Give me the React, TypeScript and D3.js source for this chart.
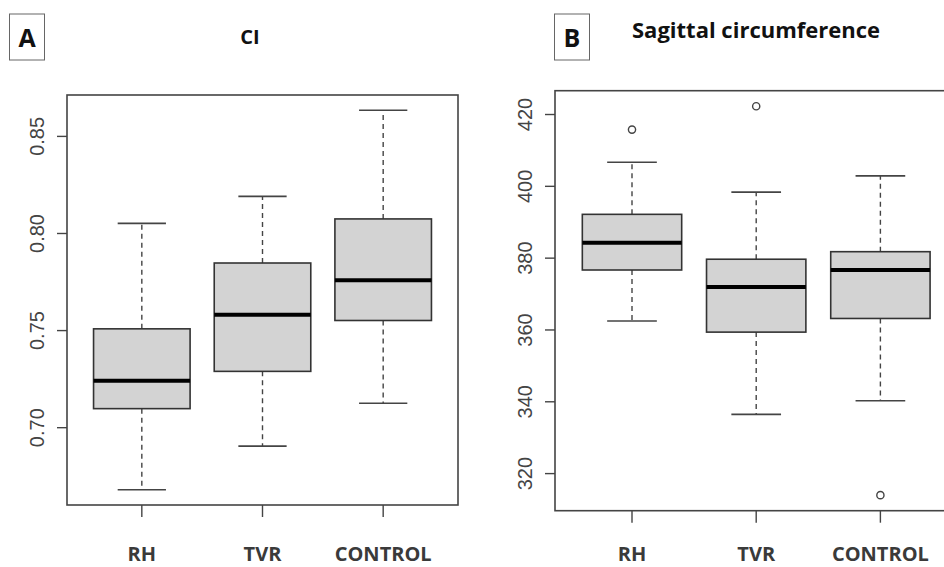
import React, { useEffect, useRef } from 'react';
import * as d3 from 'd3';

const categories = ['RH', 'TVR', 'CONTROL'];

// Panel A: CI
const ciLow = [0.668, 0.6905, 0.7126];
const ciQ1 = [0.7098, 0.729, 0.7552];
const ciMedian = [0.7242, 0.7582, 0.7759];
const ciQ3 = [0.7509, 0.7848, 0.8075];
const ciHigh = [0.8052, 0.8191, 0.8635];
const ciOutliers: number[][] = [[], [], []];
const ciTicks = [0.7, 0.75, 0.8, 0.85];

// Panel B: Sagittal circumference
const sagLow = [362.5, 336.5, 340.3];
const sagQ1 = [376.7, 359.4, 363.2];
const sagMedian = [384.3, 372.0, 376.7];
const sagQ3 = [392.2, 379.7, 381.8];
const sagHigh = [406.7, 398.4, 402.9];
const sagOutliers: number[][] = [[415.8], [422.3], [314.0]];
const sagTicks = [320, 340, 360, 380, 400, 420];

const W = 944, H = 567;

type Panel = {
  letter: string;
  title: string;
  titleSize: number;
  titleX: number;
  titleY: number;
  titleAnchor: string;
  letterBox: number;
  frame: { left: number; right: number; top: number; bottom: number };
  low: number[]; q1: number[]; median: number[]; q3: number[]; high: number[];
  outliers: number[][];
  ticks: number[];
  tickFormat: (d: number) => string;
  labelY: number;
};

function drawPanel(svg: any, p: Panel) {
  const f = p.frame;
  const g = svg.append('g');

  // R style: data range extended by 4% on both ends
  const all = [...p.low, ...p.high, ...p.outliers.flat()];
  const [lo, hi] = d3.extent(all) as [number, number];
  const pad = (hi - lo) * 0.04;
  const y = d3.scaleLinear().domain([lo - pad, hi + pad]).range([f.bottom, f.top]);
  const x = d3.scaleLinear().domain([0.38, 3.62]).range([f.left, f.right]);

  // letter box + title
  g.append('rect')
    .attr('x', p.letterBox).attr('y', 14)
    .attr('width', 35).attr('height', 46)
    .attr('fill', 'white').attr('stroke', '#666').attr('stroke-width', 1);
  g.append('text')
    .attr('x', p.letterBox + 17.5).attr('y', 47)
    .attr('text-anchor', 'middle')
    .attr('font-family', 'Open Sans, sans-serif').attr('font-weight', 700)
    .attr('font-size', 25).attr('fill', '#111')
    .text(p.letter);
  g.append('text')
    .attr('x', p.titleX).attr('y', p.titleY)
    .attr('text-anchor', p.titleAnchor)
    .attr('font-family', 'Open Sans, sans-serif').attr('font-weight', 700)
    .attr('font-size', p.titleSize).attr('fill', '#111')
    .text(p.title);

  // boxes
  const boxW = 0.8, capW = 0.4;
  categories.forEach((c, i) => {
    const cx = x(i + 1);
    const half = (x(boxW) - x(0)) / 2;
    const capHalf = (x(capW) - x(0)) / 2;

    // whiskers
    [[p.q3[i], p.high[i]], [p.q1[i], p.low[i]]].forEach(([a, b]) => {
      g.append('line')
        .attr('x1', cx).attr('x2', cx).attr('y1', y(a)).attr('y2', y(b))
        .attr('stroke', '#444').attr('stroke-width', 1.4)
        .attr('stroke-dasharray', '5,4');
      g.append('line')
        .attr('x1', cx - capHalf).attr('x2', cx + capHalf).attr('y1', y(b)).attr('y2', y(b))
        .attr('stroke', '#444').attr('stroke-width', 1.6);
    });

    g.append('rect')
      .attr('x', cx - half).attr('width', half * 2)
      .attr('y', y(p.q3[i])).attr('height', y(p.q1[i]) - y(p.q3[i]))
      .attr('fill', '#d3d3d3').attr('stroke', '#333').attr('stroke-width', 1.6);
    g.append('line')
      .attr('x1', cx - half).attr('x2', cx + half)
      .attr('y1', y(p.median[i])).attr('y2', y(p.median[i]))
      .attr('stroke', '#000').attr('stroke-width', 4);

    p.outliers[i].forEach(v => {
      g.append('circle')
        .attr('cx', cx).attr('cy', y(v)).attr('r', 3.6)
        .attr('fill', 'none').attr('stroke', '#444').attr('stroke-width', 1.4);
    });

    // x tick + label
    g.append('line')
      .attr('x1', cx).attr('x2', cx).attr('y1', f.bottom).attr('y2', f.bottom + 12)
      .attr('stroke', '#444').attr('stroke-width', 1.4);
    g.append('text')
      .attr('x', cx).attr('y', p.labelY)
      .attr('text-anchor', 'middle')
      .attr('font-family', 'Open Sans, sans-serif').attr('font-weight', 700)
      .attr('font-size', 20).attr('fill', '#3a3a3a')
      .text(c);
  });

  // y axis ticks
  p.ticks.forEach(t => {
    g.append('line')
      .attr('x1', f.left - 10).attr('x2', f.left).attr('y1', y(t)).attr('y2', y(t))
      .attr('stroke', '#444').attr('stroke-width', 1.4);
    g.append('text')
      .attr('transform', `translate(${f.left - 23},${y(t)}) rotate(-90)`)
      .attr('text-anchor', 'middle')
      .attr('font-family', 'Liberation Sans, Arial, sans-serif')
      .attr('font-size', 20).attr('fill', '#444')
      .text(p.tickFormat(t));
  });

  // frame
  g.append('rect')
    .attr('x', f.left).attr('y', f.top)
    .attr('width', f.right - f.left).attr('height', f.bottom - f.top)
    .attr('fill', 'none').attr('stroke', '#444').attr('stroke-width', 1.6);
}

export default function App() {
  const ref = useRef<SVGSVGElement>(null);

  useEffect(() => {
    const svg = d3.select(ref.current);
    svg.selectAll('*').remove();

    drawPanel(svg, {
      letter: 'A', title: 'CI', titleSize: 20, titleX: 250, titleY: 44, titleAnchor: 'middle',
      letterBox: 9.5,
      frame: { left: 67, right: 458, top: 95, bottom: 505 },
      low: ciLow, q1: ciQ1, median: ciMedian, q3: ciQ3, high: ciHigh,
      outliers: ciOutliers, ticks: ciTicks, tickFormat: d3.format('.2f'),
      labelY: 561,
    });

    drawPanel(svg, {
      letter: 'B', title: 'Sagittal circumference', titleSize: 22, titleX: 632, titleY: 38, titleAnchor: 'start',
      letterBox: 554.5,
      frame: { left: 555, right: 957.4, top: 90.7, bottom: 510.7 },
      low: sagLow, q1: sagQ1, median: sagMedian, q3: sagQ3, high: sagHigh,
      outliers: sagOutliers, ticks: sagTicks, tickFormat: d3.format('d'),
      labelY: 561,
    });
  }, []);

  return (
    <svg ref={ref} width={W} height={H}
      style={{ position: 'absolute', left: 0, top: 0, background: 'white' }} />
  );
}
